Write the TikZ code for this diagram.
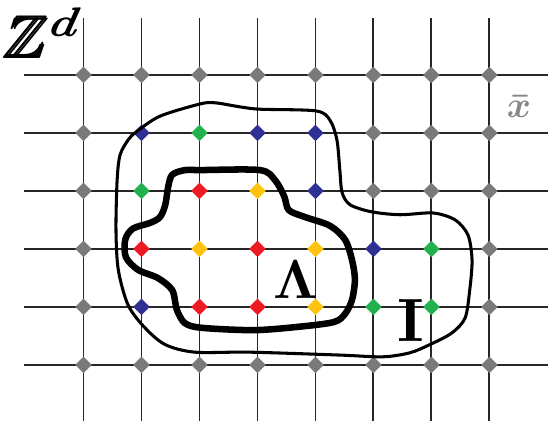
\documentclass[tikz,border=0pt]{standalone}
\usepackage{amsmath,amssymb}
\usepackage{xcolor}
\usetikzlibrary{shapes.geometric}

\definecolor{ptgrey}{RGB}{122,122,122}
\definecolor{ptblue}{RGB}{46,49,146}
\definecolor{ptgreen}{RGB}{34,177,76}
\definecolor{ptred}{RGB}{237,28,36}
\definecolor{ptyellow}{RGB}{255,194,14}

\begin{document}
\begin{tikzpicture}[
  gridline/.style={draw=black!85,line width=0.95pt},
  pt/.style={diamond,draw=none,inner sep=0pt,minimum size=2.9mm},
  region/.style={draw=black,line width=1.5pt},
  core/.style={draw=black,line width=3.2pt}]

  \useasboundingbox (-1.44,-1.0) rectangle (8.01,6.293);

  % --- lattice ---
  \foreach \y in {0,...,5}
    \draw[gridline] (-1.03,\y) -- (8.05,\y);
  \foreach \x in {0,...,7}
    \draw[gridline] (\x,-0.97) -- (\x,5.98);

  % --- sites, one row at a time (top to bottom) ---
  \foreach \c [count=\x from 0] in {ptgrey,ptgrey,ptgrey,ptgrey,ptgrey,ptgrey,ptgrey,ptgrey}
    \node[pt,fill=\c] (p-\x-5) at (\x,5) {};
  \foreach \c [count=\x from 0] in {ptgrey,ptblue,ptgreen,ptblue,ptblue,ptgrey,ptgrey,ptgrey}
    \node[pt,fill=\c] (p-\x-4) at (\x,4) {};
  \foreach \c [count=\x from 0] in {ptgrey,ptgreen,ptred,ptyellow,ptblue,ptgrey,ptgrey,ptgrey}
    \node[pt,fill=\c] (p-\x-3) at (\x,3) {};
  \foreach \c [count=\x from 0] in {ptgrey,ptred,ptyellow,ptred,ptyellow,ptblue,ptgreen,ptgrey}
    \node[pt,fill=\c] (p-\x-2) at (\x,2) {};
  \foreach \c [count=\x from 0] in {ptgrey,ptblue,ptred,ptred,ptyellow,ptgreen,ptgreen,ptgrey}
    \node[pt,fill=\c] (p-\x-1) at (\x,1) {};
  \foreach \c [count=\x from 0] in {ptgrey,ptgrey,ptgrey,ptgrey,ptgrey,ptgrey,ptgrey,ptgrey}
    \node[pt,fill=\c] (p-\x-0) at (\x,0) {};

  % --- outer region I ---
  \draw[region] plot[smooth cycle] coordinates {
    (0.91,4.02) (1.32,4.29) (2.01,4.50) (2.27,4.52) (2.70,4.45) (3.04,4.41)
    (4.01,4.38) (4.25,4.22) (4.37,3.88) (4.42,3.36) (4.46,2.97) (4.60,2.76)
    (4.97,2.64) (5.46,2.59) (6.03,2.62) (6.41,2.50) (6.63,2.24) (6.70,1.81)
    (6.66,1.29) (6.58,0.81) (6.35,0.55) (5.97,0.35) (5.63,0.21) (5.16,0.14)
    (4.42,0.17) (2.87,0.22) (1.92,0.22) (1.41,0.35) (1.06,0.64) (0.77,1.03)
    (0.60,1.64) (0.56,2.33) (0.58,3.19) (0.63,3.62) (0.77,3.88)};

  % --- inner region Lambda ---
  \draw[core] plot[smooth cycle] coordinates {
    (1.53,3.28) (1.75,3.36) (2.01,3.36) (3.04,3.36) (3.30,3.19) (3.46,2.91)
    (3.54,2.67) (3.82,2.55) (4.25,2.40) (4.51,2.16) (4.63,1.81) (4.68,1.47)
    (4.63,1.12) (4.51,0.88) (4.32,0.74) (3.73,0.66) (2.94,0.60) (2.04,0.64)
    (1.75,0.72) (1.61,0.95) (1.53,1.29) (1.28,1.50) (0.94,1.64) (0.73,1.86)
    (0.72,2.16) (0.85,2.35) (1.15,2.45) (1.32,2.55) (1.41,2.76) (1.46,3.07)};

  % --- labels ---
  \node[xslant=0.2,transform shape,inner sep=0pt] (zd) at (-0.67,5.72)
    {\scalebox{2.9}{$\pmb{\mathbb{Z}}^{\boldsymbol{d}}$}};
  \node (lam) at (3.66,1.47) {\scalebox{2.7}{$\boldsymbol{\Lambda}$}};
  \node (ii) at (5.65,0.76) {\scalebox{3}{\bfseries I}};
  \node[text=ptgrey!90] (xb) at (7.51,4.45)
    {\scalebox{1.8}{$\boldsymbol{\bar{x}}$}};
\end{tikzpicture}
\end{document}
